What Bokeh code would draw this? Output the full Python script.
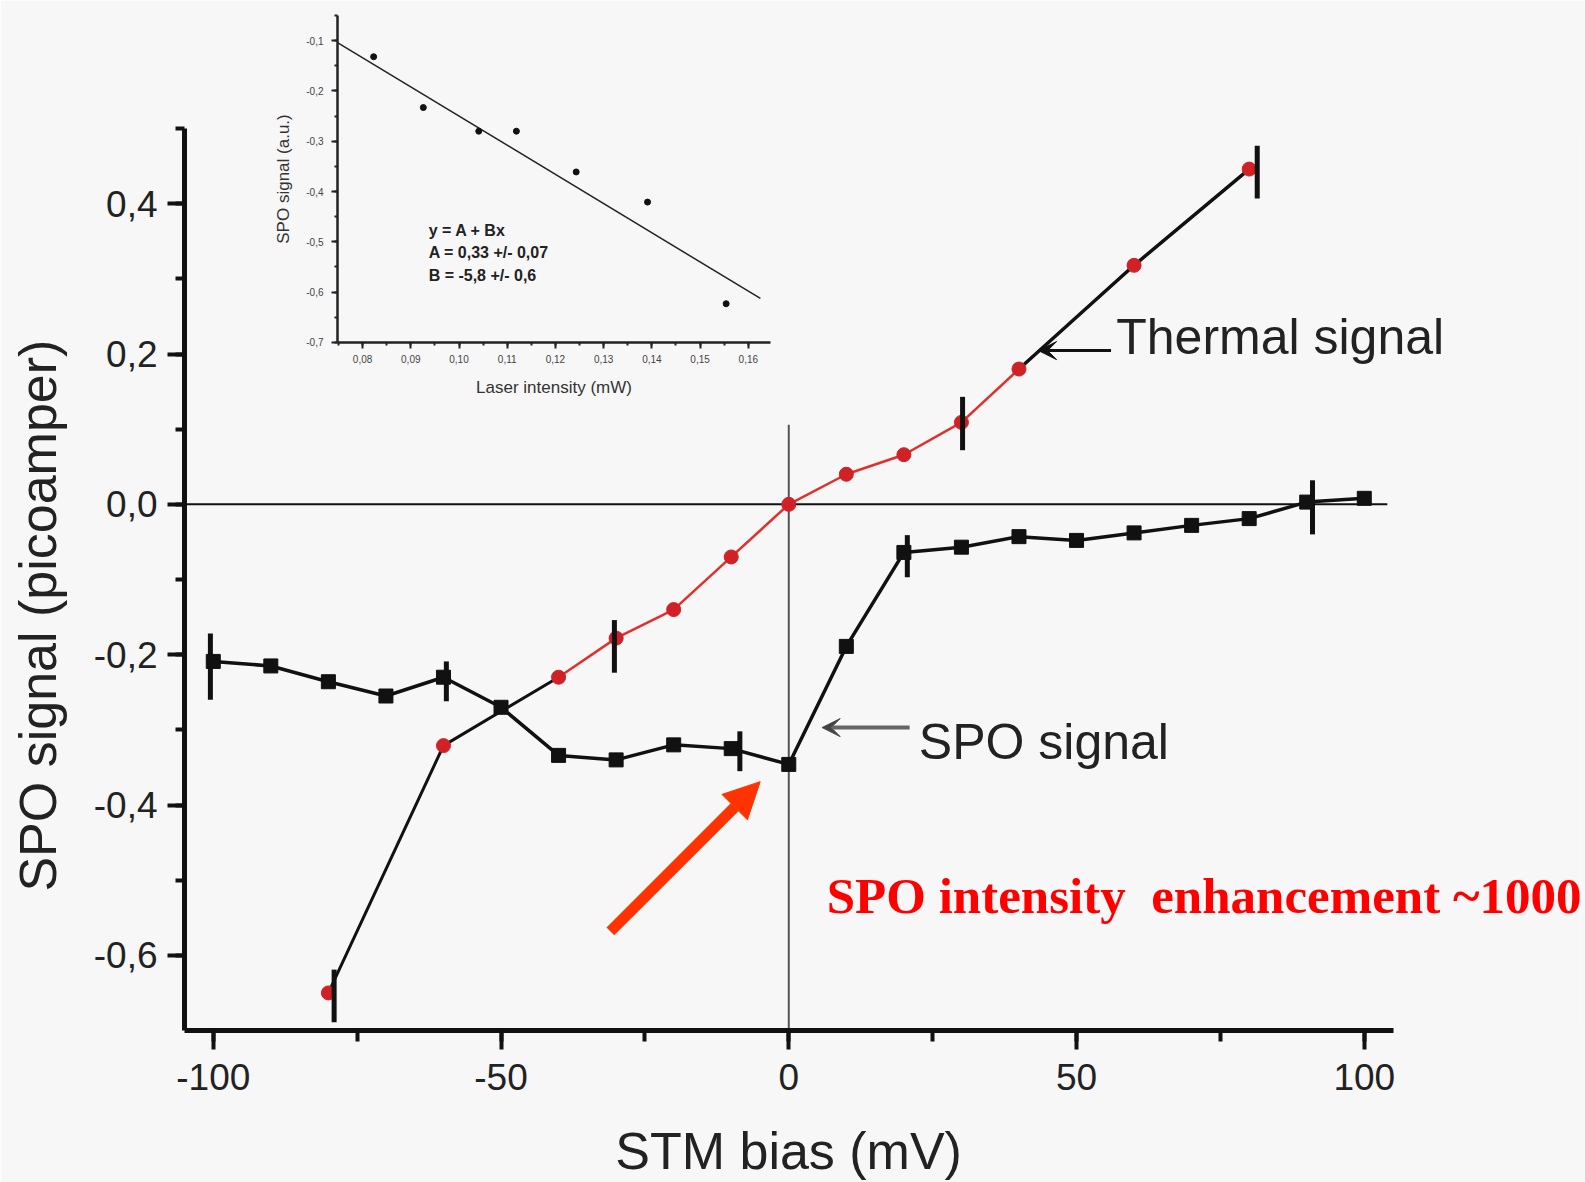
import numpy as np
from bokeh.plotting import figure
from bokeh.models import (Range1d, SingleIntervalTicker, CustomJSTickFormatter, Label,
                          Arrow, NormalHead, VeeHead, GridBox)
from bokeh.embed import file_html
from bokeh.resources import INLINE

BG = "#f7f7f7"
SANS = "Liberation Sans"
NBSP = "\u00a0"

# ---------------- main chart data ----------------
bias_spo = [-100, -90, -80, -70, -60, -50, -40, -30, -20, -10, 0,
            10, 20, 30, 40, 50, 60, 70, 80, 90, 100]
spo = [-0.209, -0.215, -0.236, -0.255, -0.230, -0.270, -0.334, -0.340, -0.320, -0.325, -0.346,
       -0.189, -0.064, -0.057, -0.043, -0.048, -0.038, -0.028, -0.019, 0.003, 0.008]

bias_th = [-80, -60, -40, -30, -20, -10, 0, 10, 20, 30, 40, 60, 80]
thermal = [-0.650, -0.321, -0.230, -0.178, -0.140, -0.070, 0.0, 0.040, 0.066, 0.109, 0.180, 0.318, 0.446]

# error bars (x position, low, high)
spo_err_x = [-100.5, -59.5, -8.5, 20.6, 91.0]
spo_err_lo = [-0.260, -0.262, -0.355, -0.097, -0.040]
spo_err_hi = [-0.172, -0.209, -0.302, -0.041, 0.032]

th_err_x = [-79.0, -30.3, 30.2, 81.4]
th_err_lo = [-0.689, -0.224, 0.072, 0.407]
th_err_hi = [-0.619, -0.154, 0.143, 0.477]

x_axis_bounds = (-105, 105)
zero_hline_x = (-105, 104)
zero_vline_top = 0.106

# ---------------- inset data ----------------
laser = [0.0823, 0.0926, 0.1041, 0.1119, 0.1243, 0.1391, 0.1554]
spo_au = [-0.132, -0.233, -0.280, -0.280, -0.361, -0.421, -0.623]
fit_A = 0.33
fit_B = -5.8
fit_x = [0.0748, 0.1625]
fit_lines = ["y = A + Bx", "A = 0,33 +/- 0,07", "B = -5,8 +/- 0,6"]
fit_text_y = [-0.477, -0.521, -0.567]

# ---------------- layout constants ----------------
W, H = 1585, 1182
BL, BR, BT, BB = 184, 5, 128, 151
PX_PER_MV = (1364 - 213) / 200.0
x_end = x_axis_bounds[0] + (W - BL - BR) / PX_PER_MV

# ---------------- main figure ----------------
p = figure(width=W, height=H, output_backend="svg", toolbar_location=None,
           x_range=Range1d(x_axis_bounds[0], x_end), y_range=Range1d(-0.7, 0.5),
           min_border_left=BL, min_border_right=BR, min_border_top=BT, min_border_bottom=BB,
           background_fill_color=BG, border_fill_color=BG, outline_line_color=None)
p.grid.visible = False

p.xaxis.ticker = SingleIntervalTicker(interval=50, num_minor_ticks=2)
p.yaxis.ticker = SingleIntervalTicker(interval=0.2, num_minor_ticks=2)
p.xaxis.bounds = x_axis_bounds
p.xaxis.formatter = CustomJSTickFormatter(code="return tick.toFixed(0);")
p.yaxis.formatter = CustomJSTickFormatter(
    code="return Math.abs(tick) < 1e-9 ? '0,0' : tick.toFixed(1).replace('.', ',');")
# trailing no-break spaces keep the labels centred on the drawn axis (the frame is wider on the right)
p.xaxis.axis_label = "STM bias (mV)" + NBSP * 13
p.yaxis.axis_label = "SPO signal (picoamper)" + NBSP * 5
for ax in (p.xaxis[0], p.yaxis[0]):
    ax.axis_line_width = 5
    ax.axis_line_color = "#111111"
    ax.major_tick_line_width = 4
    ax.minor_tick_line_width = 4
    ax.major_tick_line_color = "#111111"
    ax.minor_tick_line_color = "#111111"
    ax.major_tick_in = 0
    ax.minor_tick_in = 0
    ax.major_label_text_font = SANS
    ax.major_label_text_font_size = "37px"
    ax.major_label_text_color = "#222222"
    ax.axis_label_text_font = SANS
    ax.axis_label_text_font_size = "52px"
    ax.axis_label_text_font_style = "normal"
    ax.axis_label_text_color = "#222222"
p.xaxis.major_tick_out = 19
p.xaxis.minor_tick_out = 11
p.yaxis.major_tick_out = 17
p.yaxis.minor_tick_out = 9
p.xaxis.major_label_standoff = 14
p.xaxis.axis_label_standoff = 29
p.yaxis.major_label_standoff = 10
p.yaxis.axis_label_standoff = 24

# reference lines
p.segment(x0=[zero_hline_x[0]], y0=[0], x1=[zero_hline_x[1]], y1=[0], line_color="#111111", line_width=2)
p.segment(x0=[0], y0=[-0.7], x1=[0], y1=[zero_vline_top], line_color="#555555", line_width=2)

bth = np.array(bias_th, dtype=float)
tth = np.array(thermal, dtype=float)
left = bth <= -40
mid = np.abs(bth) <= 40
right = bth >= 40

# SPO signal
p.line(bias_spo, spo, line_color="#111111", line_width=3.5)
p.segment(x0=spo_err_x, y0=spo_err_lo, x1=spo_err_x, y1=spo_err_hi, line_color="#111111", line_width=5)
p.scatter(bias_spo, spo, marker="square", size=14, fill_color="#111111", line_color="#111111")

# thermal signal
p.line(bth[left], tth[left], line_color="#111111", line_width=3)
p.line(bth[right], tth[right], line_color="#111111", line_width=3.5)
p.line(bth[mid], tth[mid], line_color="#e0302c", line_width=2.5)
p.scatter(bias_th, thermal, marker="circle", size=14, fill_color="#d02226", line_color="#d02226")
p.segment(x0=th_err_x, y0=th_err_lo, x1=th_err_x, y1=th_err_hi, line_color="#111111", line_width=5)

# annotations
p.add_layout(Arrow(end=VeeHead(size=18, fill_color="#111111", line_color="#111111"),
                   x_start=56.0, y_start=0.2045, x_end=43.4, y_end=0.2045,
                   line_color="#111111", line_width=3))
p.add_layout(Label(x=56.9, y=0.222, text="Thermal signal", text_font=SANS, text_font_size="50px",
                   text_baseline="alphabetic", text_color="#222222"))
p.add_layout(Arrow(end=VeeHead(size=18, fill_color="#444444", line_color="#444444"),
                   x_start=21.0, y_start=-0.297, x_end=5.8, y_end=-0.297,
                   line_color="#666666", line_width=4))
p.add_layout(Label(x=22.6, y=-0.3165, text="SPO signal", text_font=SANS, text_font_size="50px",
                   text_baseline="alphabetic", text_color="#222222"))
p.add_layout(Arrow(end=NormalHead(size=36, fill_color="#ff3300", line_color="#ff3300"),
                   x_start=-31.0, y_start=-0.568, x_end=-4.97, y_end=-0.369,
                   line_color="#ff3300", line_width=11))
p.add_layout(Label(x=6.6, y=-0.521, text="SPO intensity" + NBSP + " enhancement ~1000",
                   text_font="Liberation Serif", text_font_style="bold", text_font_size="51px",
                   text_baseline="alphabetic", text_color="#ff0000"))

# ---------------- inset figure ----------------
# inset frame in page pixels: left 337, right 770, top 15, bottom 343
IF_L, IF_R, IF_T, IF_B = 337, 770, 15, 343
ins = figure(width=BL + (IF_R - IF_L) + BR, height=BT + (IF_B - IF_T) + BB,
             output_backend="svg", toolbar_location=None,
             x_range=Range1d(0.0748, 0.1646), y_range=Range1d(-0.7001, -0.05),
             min_border_left=BL, min_border_right=BR, min_border_top=BT, min_border_bottom=BB,
             background_fill_alpha=0, border_fill_alpha=0, outline_line_color=None)
ins.grid.visible = False
ins.xaxis.ticker = SingleIntervalTicker(interval=0.01, num_minor_ticks=2)
ins.yaxis.ticker = SingleIntervalTicker(interval=0.1, num_minor_ticks=2)
ins.xaxis.formatter = CustomJSTickFormatter(code="return tick.toFixed(2).replace('.', ',');")
ins.yaxis.formatter = CustomJSTickFormatter(code="return tick.toFixed(1).replace('.', ',');")
ins.xaxis.axis_label = "Laser intensity (mW)"
ins.yaxis.axis_label = "SPO signal (a.u.)"
for ax in (ins.xaxis[0], ins.yaxis[0]):
    ax.axis_line_width = 2.5
    ax.axis_line_color = "#222222"
    ax.major_tick_line_width = 2
    ax.minor_tick_line_width = 2
    ax.major_tick_line_color = "#222222"
    ax.minor_tick_line_color = "#222222"
    ax.major_tick_in = 0
    ax.minor_tick_in = 0
    ax.major_tick_out = 6
    ax.minor_tick_out = 3
    ax.major_label_text_font = SANS
    ax.major_label_text_font_size = "10px"
    ax.major_label_text_color = "#444444"
    ax.axis_label_text_font = SANS
    ax.axis_label_text_font_size = "17px"
    ax.axis_label_text_font_style = "normal"
    ax.axis_label_text_color = "#333333"
ins.xaxis.major_label_standoff = 6
ins.xaxis.axis_label_standoff = 12
ins.yaxis.major_label_standoff = 8
ins.yaxis.axis_label_standoff = 10

fx = np.array(fit_x)
ins.line(fx, fit_A + fit_B * fx, line_color="#222222", line_width=1.5)
ins.scatter(laser, spo_au, marker="circle", size=6, fill_color="#111111", line_color="#111111")
for txt, yy in zip(fit_lines, fit_text_y):
    ins.add_layout(Label(x=0.0937, y=yy, text=txt, text_font=SANS, text_font_size="16px",
                         text_font_style="bold", text_baseline="middle", text_color="#222222"))

ins.margin = (IF_T - BT, 0, 0, IF_L - BL)
ins.align = "start"
p.align = "start"

layout = GridBox(children=[(p, 0, 0), (ins, 0, 0)])

open("out.html", "w").write(file_html(layout, INLINE))
